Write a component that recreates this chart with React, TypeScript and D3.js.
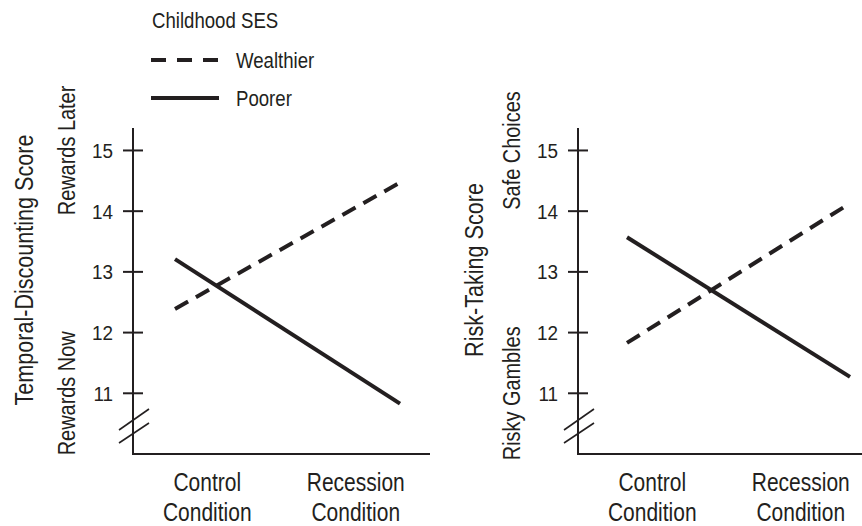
import * as d3 from "d3";
import type { ReactNode } from "react";

// conditions on the x axis (two text lines each)
const conditions = ["Control Condition", "Recession Condition"];
const conditionLines = [
  ["Control", "Condition"],
  ["Recession", "Condition"],
];

// temporal-discounting score (left panel)
const wealthierDiscount = [12.39, 14.47];
const poorerDiscount = [13.21, 10.83];

// risk-taking score (right panel)
const wealthierRisk = [11.83, 14.13];
const poorerRisk = [13.57, 11.27];

const yTicks = [11, 12, 13, 14, 15];

const W = 862;
const H = 526;
const FONT = "'Liberation Sans', Arial, sans-serif";
const INK = "#231f20";

const panels = [
  {
    axisX: 133,
    lineRange: [175, 400],
    titleX: 33,
    title: "Temporal-Discounting Score",
    top: "Rewards Later",
    bottom: "Rewards Now",
    wealthier: wealthierDiscount,
    poorer: poorerDiscount,
  },
  {
    axisX: 578,
    lineRange: [627, 850],
    titleX: 483,
    title: "Risk-Taking Score",
    top: "Safe Choices",
    bottom: "Risky Gambles",
    wealthier: wealthierRisk,
    poorer: poorerRisk,
  },
];

const y = d3.scaleLinear().domain([10, 15.37]).range([454, 128]);

// condensed text: Arial squeezed along its baseline
function Txt({
  x,
  y,
  size,
  anchor = "start",
  rotate = 0,
  sx = 0.83,
  children,
}: {
  x: number;
  y: number;
  size: number;
  anchor?: string;
  rotate?: number;
  sx?: number;
  children: ReactNode;
}) {
  return (
    <text
      transform={`translate(${x},${y}) rotate(${rotate}) scale(${sx},1)`}
      textAnchor={anchor}
      fontSize={size}
    >
      {children}
    </text>
  );
}

function Panel({ p }: { p: (typeof panels)[number] }) {
  const xBand = d3
    .scaleBand()
    .domain(conditions)
    .range([p.axisX, p.axisX + 297]);
  const xPt = d3.scalePoint().domain(conditions).range(p.lineRange as [number, number]);
  const line = d3
    .line<number>()
    .x((_, i) => xPt(conditions[i])!)
    .y((d) => y(d));
  const base = y(10);
  const ax = p.axisX;

  return (
    <g>
      {/* axes */}
      <line x1={ax} x2={ax} y1={y(15.37)} y2={base + 1} stroke={INK} strokeWidth={2} />
      <line x1={ax - 1} x2={ax + 297} y1={base} y2={base} stroke={INK} strokeWidth={2} />
      {yTicks.map((t) => (
        <g key={t}>
          <line x1={ax - 10} x2={ax + 10} y1={y(t)} y2={y(t)} stroke={INK} strokeWidth={2} />
          <Txt x={ax - 20} y={y(t) + 7.5} anchor="end" size={21} sx={0.9}>
            {t}
          </Txt>
        </g>
      ))}
      {/* axis break */}
      <line x1={ax - 14} x2={ax + 16} y1={430} y2={409} stroke={INK} strokeWidth={1.6} />
      <line x1={ax - 14} x2={ax + 16} y1={443} y2={423} stroke={INK} strokeWidth={1.6} />

      {/* category labels */}
      {conditions.map((c, i) => {
        const cx = xBand(c)! + xBand.bandwidth() / 2;
        return (
          <g key={c}>
            <Txt x={cx} y={491} anchor="middle" size={25} sx={0.84}>
              {conditionLines[i][0]}
            </Txt>
            <Txt x={cx} y={521} anchor="middle" size={25} sx={0.84}>
              {conditionLines[i][1]}
            </Txt>
          </g>
        );
      })}

      {/* y titles */}
      <Txt x={p.titleX} y={270} rotate={-90} anchor="middle" size={26}>
        {p.title}
      </Txt>
      <Txt x={ax - 58} y={y(15)} rotate={-90} anchor="middle" size={24}>
        {p.top}
      </Txt>
      <Txt x={ax - 58} y={y(11)} rotate={-90} anchor="middle" size={24}>
        {p.bottom}
      </Txt>

      {/* series */}
      <path d={line(p.wealthier)!} fill="none" stroke={INK} strokeWidth={4} strokeDasharray="15,9" />
      <path d={line(p.poorer)!} fill="none" stroke={INK} strokeWidth={4} />
    </g>
  );
}

export default function App() {
  return (
    <svg
      width={W}
      height={H}
      viewBox={`0 0 ${W} ${H}`}
      style={{ position: "absolute", left: 0, top: 0, background: "#fff" }}
      fontFamily={FONT}
      fill={INK}
    >
      {panels.map((p, i) => (
        <Panel key={i} p={p} />
      ))}

      {/* legend */}
      <Txt x={152} y={28} size={23} sx={0.81}>
        Childhood SES
      </Txt>
      <line x1={151} x2={219} y1={60} y2={60} stroke={INK} strokeWidth={4} strokeDasharray="15,11" />
      <Txt x={236} y={68} size={23} sx={0.81}>
        Wealthier
      </Txt>
      <line x1={151} x2={219} y1={98} y2={98} stroke={INK} strokeWidth={4} />
      <Txt x={236} y={106} size={23} sx={0.81}>
        Poorer
      </Txt>
    </svg>
  );
}
